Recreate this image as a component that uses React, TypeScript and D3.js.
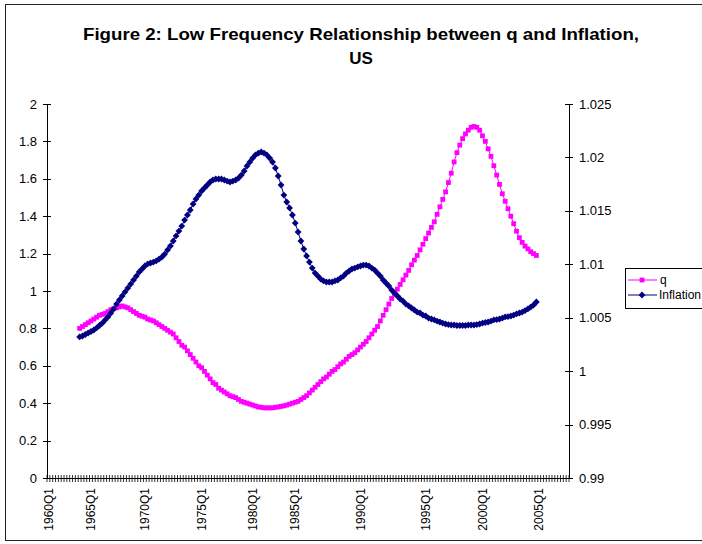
import React from "react";
import * as d3 from "d3";

const TITLE_LINES = ["Figure 2: Low Frequency Relationship between q and Inflation,", "US"];
const CATEGORY_COUNT = 184; // quarters 1960Q1 .. 2005Q4
const X_TICK_LABELS = ["1960Q1", "1965Q1", "1970Q1", "1975Q1", "1980Q1", "1985Q1", "1990Q1", "1995Q1", "2000Q1", "2005Q1"];
const X_TICK_INDEX = [0, 15, 34, 54, 72, 87, 110, 133, 153, 173];
const LEFT_TICKS = [0, 0.2, 0.4, 0.6, 0.8, 1, 1.2, 1.4, 1.6, 1.8, 2];
const RIGHT_TICKS = [0.99, 0.995, 1, 1.005, 1.01, 1.015, 1.02, 1.025];
const SERIES_START = 11;

const qValues = [
  0.80, 0.81, 0.82, 0.83, 0.84, 0.85, 0.86, 0.87, 0.875, 0.88,
  0.89, 0.90, 0.905, 0.91, 0.915, 0.92, 0.915, 0.91, 0.90, 0.89,
  0.88, 0.87, 0.865, 0.86, 0.85, 0.845, 0.84, 0.83, 0.82, 0.81,
  0.80, 0.79, 0.78, 0.77, 0.75, 0.73, 0.71, 0.70, 0.68, 0.66,
  0.64, 0.62, 0.60, 0.59, 0.57, 0.55, 0.53, 0.51, 0.50, 0.48,
  0.47, 0.46, 0.45, 0.44, 0.435, 0.43, 0.42, 0.41, 0.405, 0.40,
  0.395, 0.39, 0.385, 0.38, 0.378, 0.375, 0.375, 0.375, 0.375, 0.378,
  0.38, 0.383, 0.386, 0.39, 0.395, 0.40, 0.405, 0.41, 0.42, 0.43,
  0.44, 0.455, 0.47, 0.485, 0.50, 0.515, 0.53, 0.54, 0.555, 0.57,
  0.58, 0.595, 0.61, 0.62, 0.635, 0.65, 0.66, 0.67, 0.685, 0.70,
  0.715, 0.73, 0.75, 0.77, 0.79, 0.81, 0.84, 0.87, 0.90, 0.93,
  0.96, 0.985, 1.01, 1.035, 1.06, 1.085, 1.11, 1.14, 1.165, 1.19,
  1.22, 1.25, 1.28, 1.31, 1.34, 1.37, 1.41, 1.45, 1.49, 1.53,
  1.58, 1.63, 1.69, 1.74, 1.78, 1.815, 1.84, 1.86, 1.875, 1.88,
  1.875, 1.86, 1.83, 1.80, 1.76, 1.72, 1.67, 1.62, 1.57, 1.52,
  1.48, 1.44, 1.40, 1.36, 1.32, 1.285, 1.26, 1.24, 1.225, 1.21,
  1.20, 1.19,
];

const inflationValues = [
  1.00320, 1.00329, 1.00343, 1.00357, 1.00371, 1.00385, 1.00404, 1.00427, 1.00450, 1.00479,
  1.00507, 1.00544, 1.00582, 1.00628, 1.00666, 1.00703, 1.00741, 1.00778, 1.00815, 1.00853,
  1.00890, 1.00928, 1.00956, 1.00984, 1.01003, 1.01012, 1.01021, 1.01031, 1.01049, 1.01068,
  1.01096, 1.01134, 1.01171, 1.01218, 1.01265, 1.01311, 1.01358, 1.01414, 1.01461, 1.01508,
  1.01564, 1.01611, 1.01648, 1.01686, 1.01714, 1.01742, 1.01770, 1.01789, 1.01798, 1.01798,
  1.01798, 1.01789, 1.01779, 1.01770, 1.01779, 1.01789, 1.01807, 1.01835, 1.01873, 1.01920,
  1.01957, 1.01994, 1.02023, 1.02041, 1.02051, 1.02041, 1.02023, 1.01994, 1.01957, 1.01901,
  1.01826, 1.01742, 1.01648, 1.01583, 1.01527, 1.01461, 1.01386, 1.01302, 1.01218, 1.01143,
  1.01078, 1.01021, 1.00965, 1.00918, 1.00890, 1.00862, 1.00844, 1.00834, 1.00834, 1.00834,
  1.00844, 1.00853, 1.00872, 1.00890, 1.00918, 1.00937, 1.00956, 1.00965, 1.00975, 1.00984,
  1.00993, 1.00993, 1.00984, 1.00965, 1.00946, 1.00918, 1.00890, 1.00853, 1.00825, 1.00797,
  1.00759, 1.00731, 1.00703, 1.00675, 1.00656, 1.00628, 1.00610, 1.00591, 1.00572, 1.00553,
  1.00544, 1.00525, 1.00516, 1.00497, 1.00488, 1.00479, 1.00469, 1.00460, 1.00450, 1.00441,
  1.00436, 1.00432, 1.00432, 1.00427, 1.00427, 1.00427, 1.00427, 1.00432, 1.00432, 1.00432,
  1.00436, 1.00441, 1.00450, 1.00455, 1.00460, 1.00469, 1.00479, 1.00483, 1.00488, 1.00497,
  1.00507, 1.00511, 1.00516, 1.00525, 1.00535, 1.00544, 1.00553, 1.00567, 1.00582, 1.00600,
  1.00619, 1.00647,
];

const Q_COLOR = "#FF00FF";
const INF_COLOR = "#000080";
const FONT = "'Liberation Sans', Arial, sans-serif";

export default function App() {
  const W = 702, H = 544;
  const plotL = 47, plotR = 569, plotT = 104, plotB = 478;
  const x = d3.scaleLinear().domain([0, CATEGORY_COUNT]).range([plotL, plotR]);
  const yL = d3.scaleLinear().domain([0, 2]).range([plotB, plotT]);
  const yR = d3.scaleLinear().domain([0.99, 1.025]).range([plotB, plotT]);
  const cx = (i: number) => x(i + 0.5);

  const qPts = qValues.map((v, k) => [cx(SERIES_START + k), yL(v)] as [number, number]);
  const infPts = inflationValues.map((v, k) => [cx(SERIES_START + k), yR(v)] as [number, number]);
  const line = d3.line();

  const catTicks = d3.range(CATEGORY_COUNT + 1);
  const sq = 2.4;
  const dm = 3.4;
  const diamond = (px: number, py: number) =>
    `M${px},${py - dm}L${px + dm},${py}L${px},${py + dm}L${px - dm},${py}Z`;

  return (
    <div style={{ position: "absolute", left: 0, top: 0 }}>
      <svg width={W} height={H} style={{ display: "block", fontFamily: FONT }}>
        <rect x={0} y={0} width={W} height={H} fill="#fff" />
        <rect x={5.5} y={4.5} width={760} height={536} fill="none" stroke="#222" strokeWidth={1} />
        <text x={361} y={40} textAnchor="middle" fontSize={17} fontWeight="bold" fill="#000"
          textLength={556} lengthAdjust="spacingAndGlyphs">
          {TITLE_LINES[0]}
        </text>
        <text x={361} y={64} textAnchor="middle" fontSize={17} fontWeight="bold" fill="#000">
          {TITLE_LINES[1]}
        </text>
        {/* left axis */}
        <line x1={plotL + 0.5} x2={plotL + 0.5} y1={plotT} y2={plotB} stroke="#000" />
        {LEFT_TICKS.map((t) => (
          <g key={"l" + t}>
            <line x1={plotL - 4} x2={plotL + 4} y1={Math.round(yL(t)) + 0.5} y2={Math.round(yL(t)) + 0.5} stroke="#000" />
            <text x={37} y={yL(t)} dy="0.35em" textAnchor="end" fontSize={13} fill="#000">{t}</text>
          </g>
        ))}
        {/* right axis */}
        <line x1={plotR + 0.5} x2={plotR + 0.5} y1={plotT} y2={plotB} stroke="#000" />
        {RIGHT_TICKS.map((t) => (
          <g key={"r" + t}>
            <line x1={plotR - 4} x2={plotR + 4} y1={Math.round(yR(t)) + 0.5} y2={Math.round(yR(t)) + 0.5} stroke="#000" />
            <text x={579} y={yR(t)} dy="0.35em" textAnchor="start" fontSize={13} fill="#000">{+t.toFixed(3)}</text>
          </g>
        ))}
        {/* x axis */}
        <line x1={plotL} x2={plotR + 1} y1={plotB + 0.5} y2={plotB + 0.5} stroke="#000" />
        {catTicks.map((i) => (
          <line key={"c" + i} x1={x(i)} x2={x(i)} y1={plotB - 3} y2={plotB + 4} stroke="#000" strokeWidth={0.8} />
        ))}
        {X_TICK_LABELS.map((lab, k) => {
          const px = cx(X_TICK_INDEX[k]);
          return (
            <text key={lab} transform={`translate(${px},488) rotate(-90)`} dy="0.35em" textAnchor="end" fontSize={12} fill="#000">
              {lab}
            </text>
          );
        })}
        {/* q series */}
        <path d={line(qPts) || ""} fill="none" stroke={Q_COLOR} strokeWidth={1} />
        {qPts.map(([px, py], k) => (
          <rect key={"q" + k} x={px - sq} y={py - sq} width={sq * 2} height={sq * 2} fill={Q_COLOR} />
        ))}
        {/* inflation series */}
        <path d={line(infPts) || ""} fill="none" stroke={INF_COLOR} strokeWidth={1} />
        {infPts.map(([px, py], k) => (
          <path key={"i" + k} d={diamond(px, py)} fill={INF_COLOR} />
        ))}
        {/* legend */}
        <rect x={625.5} y={268.5} width={100} height={40} fill="#fff" stroke="#000" />
        <line x1={628} x2={657} y1={280} y2={280} stroke={Q_COLOR} />
        <rect x={642 - sq} y={280 - sq} width={sq * 2} height={sq * 2} fill={Q_COLOR} />
        <text x={660} y={280} dy="0.35em" fontSize={12} fill="#000">q</text>
        <line x1={628} x2={657} y1={295} y2={295} stroke={INF_COLOR} />
        <path d={diamond(642, 295)} fill={INF_COLOR} />
        <text x={659} y={295} dy="0.35em" fontSize={12} fill="#000">Inflation</text>
      </svg>
    </div>
  );
}
